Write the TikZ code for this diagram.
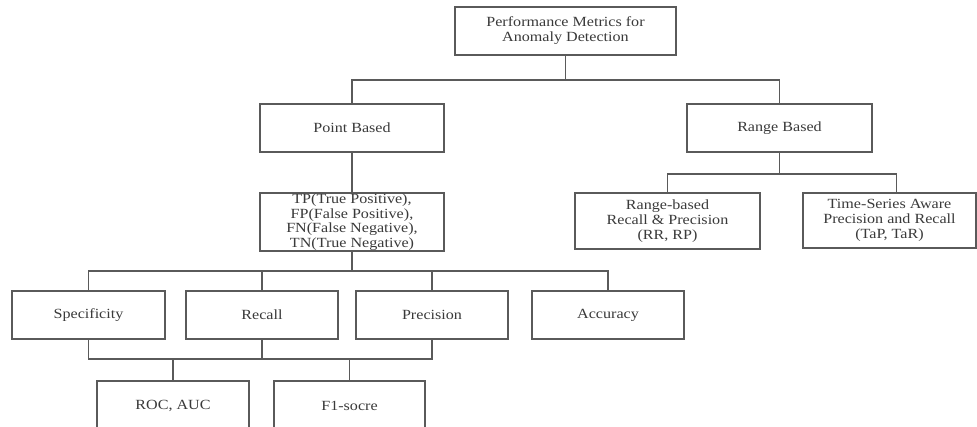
\documentclass[tikz,border=0pt]{standalone}
\usepackage{fontspec}
\setmainfont{Liberation Serif}[FakeStretch=1.15]
\definecolor{linec}{HTML}{5A5A5A}
\definecolor{textc}{HTML}{3A3A3A}
\begin{document}
\begin{tikzpicture}[x=1pt,y=-1pt,
  boxx/.style={draw=linec, line width=1.4pt, fill=white, inner sep=0pt, align=center,
    text=textc, font=\fontsize{14}{15}\selectfont},
  conn/.style={draw=linec, line width=1.4pt}]
\clip (0,0) rectangle (977,426);
\fill[white] (0,0) rectangle (977,426);
% top level
\node[boxx, minimum width=221pt, minimum height=48pt] (top) at (565.5,31) {Performance Metrics for\\Anomaly Detection};
\node[boxx, minimum width=184pt, minimum height=48pt] (pb) at (352,128) {Point Based};
\node[boxx, minimum width=185pt, minimum height=48pt] (rb) at (779.5,128) {Range Based};
% second level
\node[boxx, minimum width=184pt, minimum height=58pt, font=\fontsize{14}{14.6}\selectfont] (tp) at (352,222) {TP(True Positive),\\FP(False Positive),\\FN(False Negative),\\TN(True Negative)};
\node[boxx, minimum width=185pt, minimum height=56pt] (rr) at (667.5,221) {Range-based\\Recall \& Precision\\(RR, RP)};
\node[boxx, minimum width=173pt, minimum height=55pt] (ts) at (889.5,220.5) {Time-Series Aware\\Precision and Recall\\(TaP, TaR)};
% third level
\node[boxx, minimum width=153pt, minimum height=48pt] (spec) at (88.5,315) {Specificity};
\node[boxx, minimum width=152pt, minimum height=48pt] (rec) at (262,315) {Recall};
\node[boxx, minimum width=152pt, minimum height=48pt] (prec) at (432,315) {Precision};
\node[boxx, minimum width=152pt, minimum height=48pt] (acc) at (608,315) {Accuracy};
% fourth level
\node[boxx, minimum width=152pt, minimum height=50pt] (roc) at (173,406) {ROC, AUC};
\node[boxx, minimum width=151pt, minimum height=50pt] (f1) at (349.5,406) {F1-socre};
% junctions
\coordinate (j1) at (565.5,80);
\coordinate (j2) at (779.5,174);
\coordinate (j3) at (352,271);
\coordinate (j4) at (432,359);
% connectors
\draw[conn] (top.south) -- (j1);
\draw[conn] (pb.north) |- (j1) -| (rb.north);
\draw[conn] (pb.south) -- (tp.north);
\draw[conn] (rb.south) -- (j2);
\draw[conn] (rr.north) |- (j2) -| ([xshift=7pt]ts.north);
\draw[conn] (tp.south) -- (j3);
\draw[conn] (spec.north) |- (j3) -| (acc.north);
\draw[conn] (rec.north) -- (rec.north |- j3);
\draw[conn] (prec.north) -- (prec.north |- j3);
\draw[conn] (spec.south) |- (j4) -- (prec.south);
\draw[conn] (rec.south) -- (rec.south |- j4);
\draw[conn] (roc.north) -- (roc.north |- j4);
\draw[conn] (f1.north) -- (f1.north |- j4);
\end{tikzpicture}
\end{document}
